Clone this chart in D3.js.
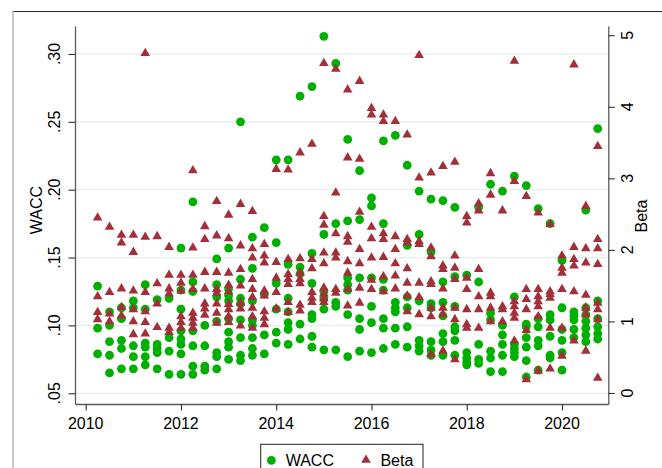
<!DOCTYPE html>
<html>
<head>
<meta charset="utf-8">
<script src="https://cdn.jsdelivr.net/npm/d3@7"></script>
<style>
  html, body { margin: 0; padding: 0; background: #fff; }
  svg { display: block; font-family: "Liberation Sans", Arial, Helvetica, sans-serif; }
</style>
</head>
<body>
<svg id="chart" width="662" height="468"></svg>
<script>
// Quarterly observations, one column per quarter
const quarters = [
  "2010q2","2010q3","2010q4",
  "2011q1","2011q2","2011q3","2011q4",
  "2012q1","2012q2","2012q3","2012q4",
  "2013q1","2013q2","2013q3","2013q4",
  "2014q1","2014q2","2014q3","2014q4",
  "2015q1","2015q2","2015q3","2015q4",
  "2016q1","2016q2","2016q3","2016q4",
  "2017q1","2017q2","2017q3","2017q4",
  "2018q1","2018q2","2018q3","2018q4",
  "2019q1","2019q2","2019q3","2019q4",
  "2020q1","2020q2","2020q3","2020q4"
];

// WACC of each firm, per quarter (left axis)
const waccByQuarter = [
  [0.129, 0.098, 0.079],
  [0.110, 0.100, 0.088, 0.078, 0.065],
  [0.113, 0.105, 0.089, 0.083, 0.068],
  [0.118, 0.113, 0.085, 0.077, 0.068],
  [0.130, 0.112, 0.087, 0.084, 0.077, 0.071],
  [0.119, 0.086, 0.083, 0.080, 0.068],
  [0.120, 0.091, 0.081, 0.064],
  [0.157, 0.126, 0.112, 0.096, 0.090, 0.086, 0.079, 0.064],
  [0.191, 0.132, 0.125, 0.096, 0.085, 0.070, 0.064],
  [0.100, 0.085, 0.070, 0.067],
  [0.149, 0.130, 0.121, 0.103, 0.080, 0.077, 0.068],
  [0.157, 0.127, 0.122, 0.118, 0.105, 0.095, 0.088, 0.084, 0.075],
  [0.250, 0.134, 0.120, 0.116, 0.104, 0.091, 0.078, 0.074],
  [0.165, 0.142, 0.118, 0.104, 0.100, 0.091, 0.083, 0.078],
  [0.172, 0.123, 0.093, 0.079],
  [0.222, 0.161, 0.131, 0.112, 0.095, 0.087],
  [0.222, 0.145, 0.120, 0.110, 0.102, 0.097, 0.086],
  [0.269, 0.143, 0.138, 0.101, 0.090],
  [0.276, 0.153, 0.131, 0.108, 0.105, 0.092, 0.084],
  [0.313, 0.167, 0.125, 0.120, 0.112, 0.082],
  [0.293, 0.175, 0.117, 0.114, 0.082],
  [0.237, 0.177, 0.135, 0.130, 0.126, 0.108, 0.077],
  [0.214, 0.178, 0.135, 0.105, 0.097, 0.081],
  [0.194, 0.188, 0.135, 0.114, 0.102, 0.080],
  [0.236, 0.175, 0.134, 0.126, 0.105, 0.098, 0.083],
  [0.240, 0.117, 0.113, 0.110, 0.098, 0.086],
  [0.218, 0.159, 0.121, 0.113, 0.099, 0.084],
  [0.199, 0.167, 0.118, 0.089, 0.085, 0.081],
  [0.193, 0.154, 0.116, 0.113, 0.088, 0.082, 0.078],
  [0.192, 0.132, 0.117, 0.107, 0.094, 0.088, 0.078],
  [0.187, 0.136, 0.114, 0.099, 0.096, 0.089, 0.078],
  [0.137, 0.080, 0.076, 0.073, 0.071],
  [0.187, 0.132, 0.086, 0.075, 0.072],
  [0.204, 0.109, 0.104, 0.081, 0.076, 0.066],
  [0.199, 0.100, 0.093, 0.086, 0.078, 0.066],
  [0.210, 0.121, 0.086, 0.083, 0.080, 0.077],
  [0.203, 0.101, 0.099, 0.091, 0.084, 0.074, 0.062],
  [0.186, 0.105, 0.099, 0.089, 0.085, 0.067],
  [0.175, 0.108, 0.104, 0.092, 0.078, 0.076],
  [0.148, 0.113, 0.097, 0.089, 0.080, 0.067],
  [0.110, 0.107, 0.104, 0.097, 0.091],
  [0.185, 0.113, 0.108, 0.103, 0.098, 0.093, 0.088],
  [0.245, 0.118, 0.105, 0.099, 0.094, 0.090]
];

// Beta of each firm, per quarter (right axis)
const betaByQuarter = [
  [2.46, 1.36, 1.14, 1.04],
  [2.33, 1.42, 1.12, 1.01],
  [2.22, 2.11, 1.47, 1.21, 1.09],
  [2.22, 1.98, 1.44, 1.18, 1.01, 0.83],
  [4.76, 2.19, 1.42, 1.15, 1.00, 0.84],
  [2.20, 1.54, 1.26, 0.93],
  [2.05, 1.66, 1.47, 1.40, 0.92, 0.86],
  [1.66, 1.55, 1.44, 1.08, 1.00, 0.92],
  [3.12, 2.04, 1.66, 1.46, 1.13, 1.06, 0.99, 0.92],
  [2.34, 2.16, 1.70, 1.47, 1.26, 1.19, 1.10],
  [2.69, 2.21, 1.70, 1.46, 1.41, 1.26, 1.13, 0.99],
  [2.50, 2.17, 1.69, 1.52, 1.43, 1.25, 1.18, 1.08, 1.00],
  [2.65, 2.07, 1.74, 1.51, 1.27, 1.19, 0.95],
  [2.55, 2.03, 1.90, 1.60, 1.46, 1.35, 1.20, 1.08, 0.92],
  [2.09, 1.93, 1.83, 1.44, 1.37, 1.15, 1.06, 0.97],
  [3.14, 1.84, 1.62, 1.42, 1.19],
  [3.13, 1.88, 1.67, 1.60, 1.53, 1.28, 1.14],
  [3.37, 1.89, 1.69, 1.60, 1.54, 1.24, 1.16],
  [3.49, 1.88, 1.75, 1.42, 1.34, 1.28],
  [4.62, 2.48, 2.36, 1.97, 1.82, 1.48, 1.40, 1.33, 1.28],
  [4.54, 2.81, 2.24, 1.97, 1.90, 1.46, 1.41],
  [4.25, 3.30, 2.20, 2.12, 1.85, 1.69, 1.46, 1.23],
  [4.37, 3.28, 2.54, 2.02, 1.82, 1.48, 1.27],
  [3.99, 3.90, 2.33, 2.17, 1.90, 1.59, 1.46],
  [3.90, 3.81, 2.24, 2.16, 1.91, 1.64, 1.43],
  [3.81, 2.20, 2.02, 1.82, 1.65, 1.47],
  [3.62, 2.16, 2.11, 1.75, 1.55, 1.37, 1.15],
  [4.73, 3.02, 2.13, 2.09, 1.55, 1.35, 1.11],
  [3.09, 2.04, 1.92, 1.57, 1.53, 1.20, 1.08, 0.55],
  [3.18, 1.79, 1.74, 1.47, 1.20, 1.11, 0.60],
  [3.24, 1.93, 1.76, 1.60, 1.20, 1.04, 0.48],
  [2.48, 2.39, 1.62, 1.46, 1.18, 0.97, 0.92],
  [2.66, 2.56, 1.74, 1.36, 1.18, 0.92],
  [3.08, 2.78, 1.41, 1.36, 1.20, 1.01],
  [2.56, 1.22, 1.18, 1.01],
  [4.65, 2.97, 1.29, 1.22, 1.13, 1.06, 0.74],
  [2.76, 1.46, 1.32, 1.18, 0.89, 0.20],
  [2.53, 1.46, 1.36, 1.29, 1.22, 1.08, 0.32],
  [2.37, 1.43, 1.39, 1.34, 0.92, 0.35],
  [1.93, 1.76, 1.69, 1.46, 0.92, 0.53],
  [4.60, 2.05, 1.88, 1.79, 1.43, 0.74],
  [2.62, 2.03, 1.83, 1.38, 1.20, 1.11, 0.60],
  [3.46, 2.16, 2.03, 1.81, 1.27, 1.18, 1.04, 0.22]
];

const yearTicks = [2010, 2012, 2014, 2016, 2018, 2020];
const waccTicks = [0.05, 0.10, 0.15, 0.20, 0.25, 0.30];
const waccTickLabels = [".05", ".10", ".15", ".20", ".25", ".30"];
const betaTicks = [0, 1, 2, 3, 4, 5];
const seriesNames = ["WACC", "Beta"];

const GREEN = "#00b000";
const MAROON = "#a2303a";

// "2012q3" -> 2012.5 (start of the quarter on a year scale)
const quarterToYear = q => +q.slice(0, 4) + (+q.slice(5) - 1) / 4;

const waccPoints = quarters.flatMap((q, i) => waccByQuarter[i].map(v => ({ t: quarterToYear(q), v })));
const betaPoints = quarters.flatMap((q, i) => betaByQuarter[i].map(v => ({ t: quarterToYear(q), v })));

const svg = d3.select("#chart");
const plot = { left: 75, right: 608.3, top: 26, bottom: 404 };

const x = d3.scaleLinear().domain([2009.775, 2020.972]).range([plot.left, plot.right]);
const yW = d3.scaleLinear().domain([0.0421, 0.3206]).range([plot.bottom, plot.top]);
const yB = d3.scaleLinear().domain([-0.154, 5.129]).range([plot.bottom, plot.top]);

// outer frame edges
svg.append("line").attr("x1", 12).attr("x2", 662).attr("y1", 11.5).attr("y2", 11.5)
  .attr("stroke", "#2a2a2a").attr("stroke-width", 1.2);
svg.append("line").attr("x1", 13).attr("x2", 13).attr("y1", 11).attr("y2", 468)
  .attr("stroke", "#bcbcbc").attr("stroke-width", 1.6);

// horizontal grid on WACC ticks
svg.append("g").selectAll("line").data(waccTicks).join("line")
  .attr("x1", plot.left).attr("x2", plot.right)
  .attr("y1", d => yW(d)).attr("y2", d => yW(d))
  .attr("stroke", "#e3ecee").attr("stroke-width", 1.3);

// markers: WACC circles first, Beta triangles on top
svg.append("g").selectAll("circle").data(waccPoints).join("circle")
  .attr("cx", d => x(d.t)).attr("cy", d => yW(d.v)).attr("r", 4.4)
  .attr("fill", GREEN);

const tri = d3.symbol().type(d3.symbolTriangle).size(40);
svg.append("g").selectAll("path").data(betaPoints).join("path")
  .attr("d", tri)
  .attr("transform", d => `translate(${x(d.t)},${yB(d.v) + 0.8})`)
  .attr("fill", MAROON);

// axes
function styleAxis(g) {
  g.select(".domain").attr("stroke", "#5a5a5a").attr("stroke-width", 1.3);
  g.selectAll(".tick line").attr("stroke", "#333").attr("stroke-width", 1.1);
  g.selectAll(".tick text").remove();
}

const xAxis = svg.append("g").attr("transform", `translate(0,${plot.bottom})`)
  .call(d3.axisBottom(x).tickValues(yearTicks).tickSize(6.5).tickSizeOuter(0));
styleAxis(xAxis);
svg.append("g").selectAll("text").data(yearTicks).join("text")
  .attr("x", d => x(d)).attr("y", 429.3)
  .attr("text-anchor", "middle").attr("font-size", 16).attr("fill", "#000")
  .text(d => d);

const leftAxis = svg.append("g").attr("transform", `translate(${plot.left},0)`)
  .call(d3.axisLeft(yW).tickValues(waccTicks).tickSize(6.5).tickSizeOuter(0));
styleAxis(leftAxis);
svg.append("g").selectAll("text").data(waccTicks).join("text")
  .attr("transform", d => `translate(60,${yW(d)}) rotate(-90)`)
  .attr("text-anchor", "middle").attr("font-size", 16).attr("fill", "#000")
  .text((d, i) => waccTickLabels[i]);

const rightAxis = svg.append("g").attr("transform", `translate(${plot.right},0)`)
  .call(d3.axisRight(yB).tickValues(betaTicks).tickSize(6.5).tickSizeOuter(0));
styleAxis(rightAxis);
svg.append("g").selectAll("text").data(betaTicks).join("text")
  .attr("transform", d => `translate(633.3,${yB(d)}) rotate(-90)`)
  .attr("text-anchor", "middle").attr("font-size", 16).attr("fill", "#000")
  .text(d => d);

// axis titles
svg.append("text").attr("transform", "translate(42,210) rotate(-90)")
  .attr("text-anchor", "middle").attr("font-size", 16).attr("fill", "#000")
  .text(seriesNames[0]);
svg.append("text").attr("transform", "translate(646.7,216) rotate(-90)")
  .attr("text-anchor", "middle").attr("font-size", 16).attr("fill", "#000")
  .text(seriesNames[1]);

// legend
const legend = svg.append("g");
legend.append("rect").attr("x", 260.7).attr("y", 444.3).attr("width", 162.3).attr("height", 40)
  .attr("fill", "#fff").attr("stroke", "#333").attr("stroke-width", 1.1);
legend.append("circle").attr("cx", 271.4).attr("cy", 460.4).attr("r", 4.4).attr("fill", GREEN);
legend.append("text").attr("x", 285.7).attr("y", 466).attr("font-size", 16).attr("fill", "#000")
  .text(seriesNames[0]);
legend.append("path").attr("d", tri).attr("transform", "translate(366,460)").attr("fill", MAROON);
legend.append("text").attr("x", 380.4).attr("y", 466).attr("font-size", 16).attr("fill", "#000")
  .text(seriesNames[1]);
</script>
</body>
</html>
